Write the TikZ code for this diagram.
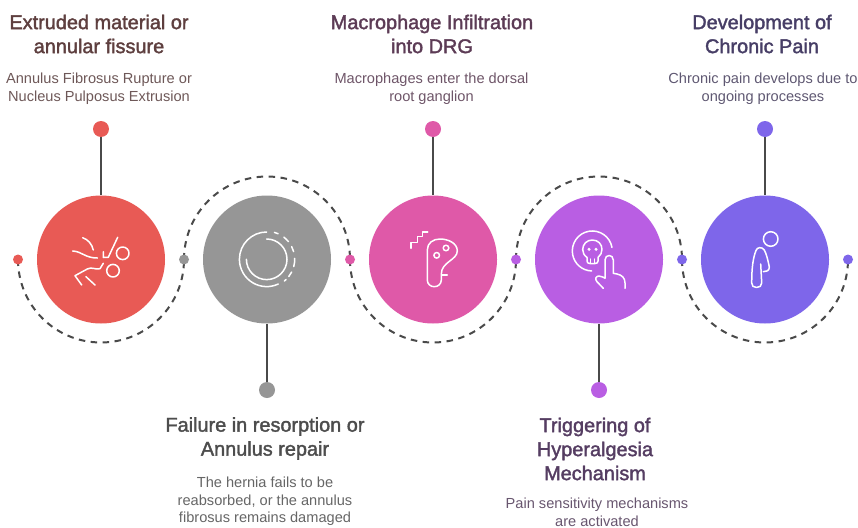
\documentclass[tikz,border=0pt]{standalone}
\usepackage{fontspec}
\setmainfont{Liberation Sans}
\newfontfamily\titlefont[FakeBold=1.8]{Liberation Sans}
\definecolor{cred}{HTML}{E85A55}
\definecolor{cgray}{HTML}{969696}
\definecolor{cpink}{HTML}{DF59A8}
\definecolor{cpurple}{HTML}{B95EE3}
\definecolor{cviolet}{HTML}{7E66EA}
\definecolor{linegray}{HTML}{4A4A4A}
\definecolor{tred}{HTML}{5E3F3F}
\definecolor{tgray}{HTML}{4D4D4D}
\definecolor{tpink}{HTML}{5C3B55}
\definecolor{tpurple}{HTML}{553D62}
\definecolor{tviolet}{HTML}{473E66}
\definecolor{bred}{HTML}{6E5858}
\definecolor{bgray}{HTML}{666666}
\definecolor{bpink}{HTML}{6E5568}
\definecolor{bpurple}{HTML}{68566F}
\definecolor{bviolet}{HTML}{5F5872}
\tikzset{
  stagecircle/.style={circle,minimum size=128pt,inner sep=0pt,draw=none},
  pindot/.style={circle,minimum size=16pt,inner sep=0pt,draw=none},
  waydot/.style={circle,minimum size=10pt,inner sep=0pt,draw=none},
  stem/.style={draw=linegray,line width=1.9pt},
  wave/.style={draw=linegray,line width=2pt,dash pattern=on 6.5pt off 5.5pt},
  glyph/.style={draw=white,line width=1.5pt,line cap=round,line join=round,fill=none},
  titletext/.style={align=center,font=\titlefont\fontsize{19.9}{24}\selectfont,inner sep=0pt},
  bodytext/.style={align=center,font=\fontsize{14.6}{17.5}\selectfont,inner sep=0pt},
}
\begin{document}
\begin{tikzpicture}[x=1pt,y=-1pt]
\useasboundingbox (0,0) rectangle (858,527);
\coordinate (w0) at (18,259.5);
\coordinate (w1) at (184,259.5);
\coordinate (w2) at (350,259.5);
\coordinate (w3) at (516,259.5);
\coordinate (w4) at (682,259.5);
\coordinate (w5) at (848,259.5);
% y axis is flipped: positive angles run through the picture's lower half
\draw[wave] (w0) arc[start angle=180,end angle=0,radius=83];
\draw[wave] (w1) arc[start angle=180,end angle=360,radius=83];
\draw[wave] (w2) arc[start angle=180,end angle=0,radius=83];
\draw[wave] (w3) arc[start angle=180,end angle=360,radius=83];
\draw[wave] (w4) arc[start angle=180,end angle=0,radius=83];
\node[waydot,fill=cred] (d0) at (w0) {};
\node[waydot,fill=cgray] (d1) at (w1) {};
\node[waydot,fill=cpink] (d2) at (w2) {};
\node[waydot,fill=cpurple] (d3) at (w3) {};
\node[waydot,fill=cviolet] (d4) at (w4) {};
\node[waydot,fill=cviolet] (d5) at (w5) {};
\node[stagecircle,fill=cred] (c1) at (101,259.5) {};
\node[stagecircle,fill=cgray] (c2) at (267,259.5) {};
\node[stagecircle,fill=cpink] (c3) at (433,259.5) {};
\node[stagecircle,fill=cpurple] (c4) at (599,259.5) {};
\node[stagecircle,fill=cviolet] (c5) at (765,259.5) {};
\node[pindot,fill=cred] (p1) at (101,129) {};
\node[pindot,fill=cgray] (p2) at (267,390) {};
\node[pindot,fill=cpink] (p3) at (433,129) {};
\node[pindot,fill=cpurple] (p4) at (599,390) {};
\node[pindot,fill=cviolet] (p5) at (765,129) {};
\draw[stem] (p1) -- (c1);
\draw[stem] (p2) -- (c2);
\draw[stem] (p3) -- (c3);
\draw[stem] (p4) -- (c4);
\draw[stem] (p5) -- (c5);
\node[titletext,text=tred] (t1) at (99,34) {Extruded material or\\annular fissure};
\node[titletext,text=tgray] (t2) at (265,438.5) {Failure in resorption or\\Annulus repair};
\node[titletext,text=tpink] (t3) at (432,34) {Macrophage Infiltration\\into DRG};
\node[titletext,text=tpurple] (t4) at (595,449) {Triggering of\\Hyperalgesia\\Mechanism};
\node[titletext,text=tviolet] (t5) at (762,34) {Development of\\Chronic Pain};
\node[bodytext,text=bred] (b1) at (99,88.5) {Annulus Fibrosus Rupture or\\Nucleus Pulposus Extrusion};
\node[bodytext,text=bgray] (b2) at (265,501.5) {The hernia fails to be\\reabsorbed, or the annulus\\fibrosus remains damaged};
\node[bodytext,text=bpink] (b3) at (431.5,88.5) {Macrophages enter the dorsal\\root ganglion};
\node[bodytext,text=bpurple] (b4) at (597,512.5) {Pain sensitivity mechanisms\\are activated};
\node[bodytext,text=bviolet] (b5) at (763,88.5) {Chronic pain develops due to\\ongoing processes};
% glyph 1: fissure
\begin{scope}[glyph]
\draw (82.7,237.7) .. controls (88,239.5) and (92,244) .. (93.3,250);
\draw (72.7,251) .. controls (82,251.5) and (85,258) .. (97.3,258);
\draw (103.3,251.7) -- (103.3,257.5) -- (108.3,257.3) -- (111.7,250) -- (117.7,237.3);
\draw (81.7,285) -- (75,275.7) -- (87.3,269) .. controls (92,266.5) and (95,270) .. (100,268.7) -- (103.3,263.3);
\draw (86,276.7) -- (95,285);
\draw (122.7,253.3) circle[radius=6.3];
\draw (113,270.7) circle[radius=6.3];
\end{scope}
% glyph 2: rings
\begin{scope}[glyph]
\def\ringx{266.7}\def\ringy{259.3}
\draw (\ringx,\ringy) ++(90:-27.3) arc[start angle=-90,end angle=-295,radius=27.3];
\draw (\ringx,\ringy) ++(-90:20.3) arc[start angle=-90,end angle=180,radius=20.3];
\foreach \a/\b in {74/66,52/39,27/16,2/-15,-27/-38,-46/-51}
  \draw (\ringx,\ringy) ++(-\a:28) arc[start angle=-\a,end angle=-\b,radius=28];
\end{scope}
% glyph 3: ganglion
\begin{scope}[glyph]
\draw (411,248.3) -- (411,242.7) -- (417.3,242.7) -- (417.3,236.7) -- (422.3,236.7) -- (422.3,232) -- (427.7,232);
\draw (427.3,280) -- (427.3,250) .. controls (427.3,243) and (433,239) .. (440,239)
  .. controls (448,239) and (457.3,243) .. (457.3,251)
  .. controls (457.3,260) and (441.3,262) .. (441.3,274) -- (441.3,280)
  .. controls (441.3,284) and (438,286.7) .. (434.3,286.7)
  .. controls (430.5,286.7) and (427.3,284) .. (427.3,280);
\draw (441.7,275) -- (447.3,275);
\draw (436.7,255.3) circle[radius=2.8];
\draw (446,248) circle[radius=2.8];
\end{scope}
% glyph 4: skull and finger
\begin{scope}[glyph]
\draw (612,247.5) arc[start angle=-10,end angle=-268,radius=20];
\draw (587,257.5) .. controls (584,255) and (582.7,253) .. (582.7,249.5)
  .. controls (582.7,244) and (587,240) .. (592.3,240)
  .. controls (598,240) and (602,244) .. (602,249.5)
  .. controls (602,253) and (600.5,255) .. (598,257.5) -- (598,261)
  .. controls (598,262.5) and (597,263.5) .. (595,263.5) -- (590,263.5)
  .. controls (588,263.5) and (587,262.5) .. (587,261) -- cycle;
\draw (590.5,259) -- (590.5,263);
\draw (594.5,259) -- (594.5,263);
\fill[white] (589,249.3) circle[radius=1.7];
\fill[white] (596,249.3) circle[radius=1.7];
\draw (603.3,288.3) -- (597,281.7) .. controls (594.5,279) and (596,276) .. (599,276)
  .. controls (602,276) and (605,278.3) .. (605,278.3) -- (605,260)
  .. controls (605,254) and (613.3,254) .. (613.3,260) -- (613.3,273.3) -- (617,274)
  .. controls (622,275) and (625,278) .. (625,283) -- (625,288.3);
\end{scope}
% glyph 5: bent figure
\begin{scope}[glyph]
\draw (770.7,239) circle[radius=7.3];
\draw (763.3,271.7) .. controls (766,271.7) and (769.5,271) .. (769.3,267)
  .. controls (768,260) and (766,253) .. (764.3,250)
  .. controls (762,246.5) and (757,247) .. (756,250.5)
  .. controls (753,258) and (751.7,268) .. (751.7,283)
  .. controls (751.7,286) and (753.5,287.5) .. (756.5,287.5)
  .. controls (759.5,287.5) and (761.7,286) .. (761.7,283) -- (760.7,264);
\end{scope}
\end{tikzpicture}
\end{document}
